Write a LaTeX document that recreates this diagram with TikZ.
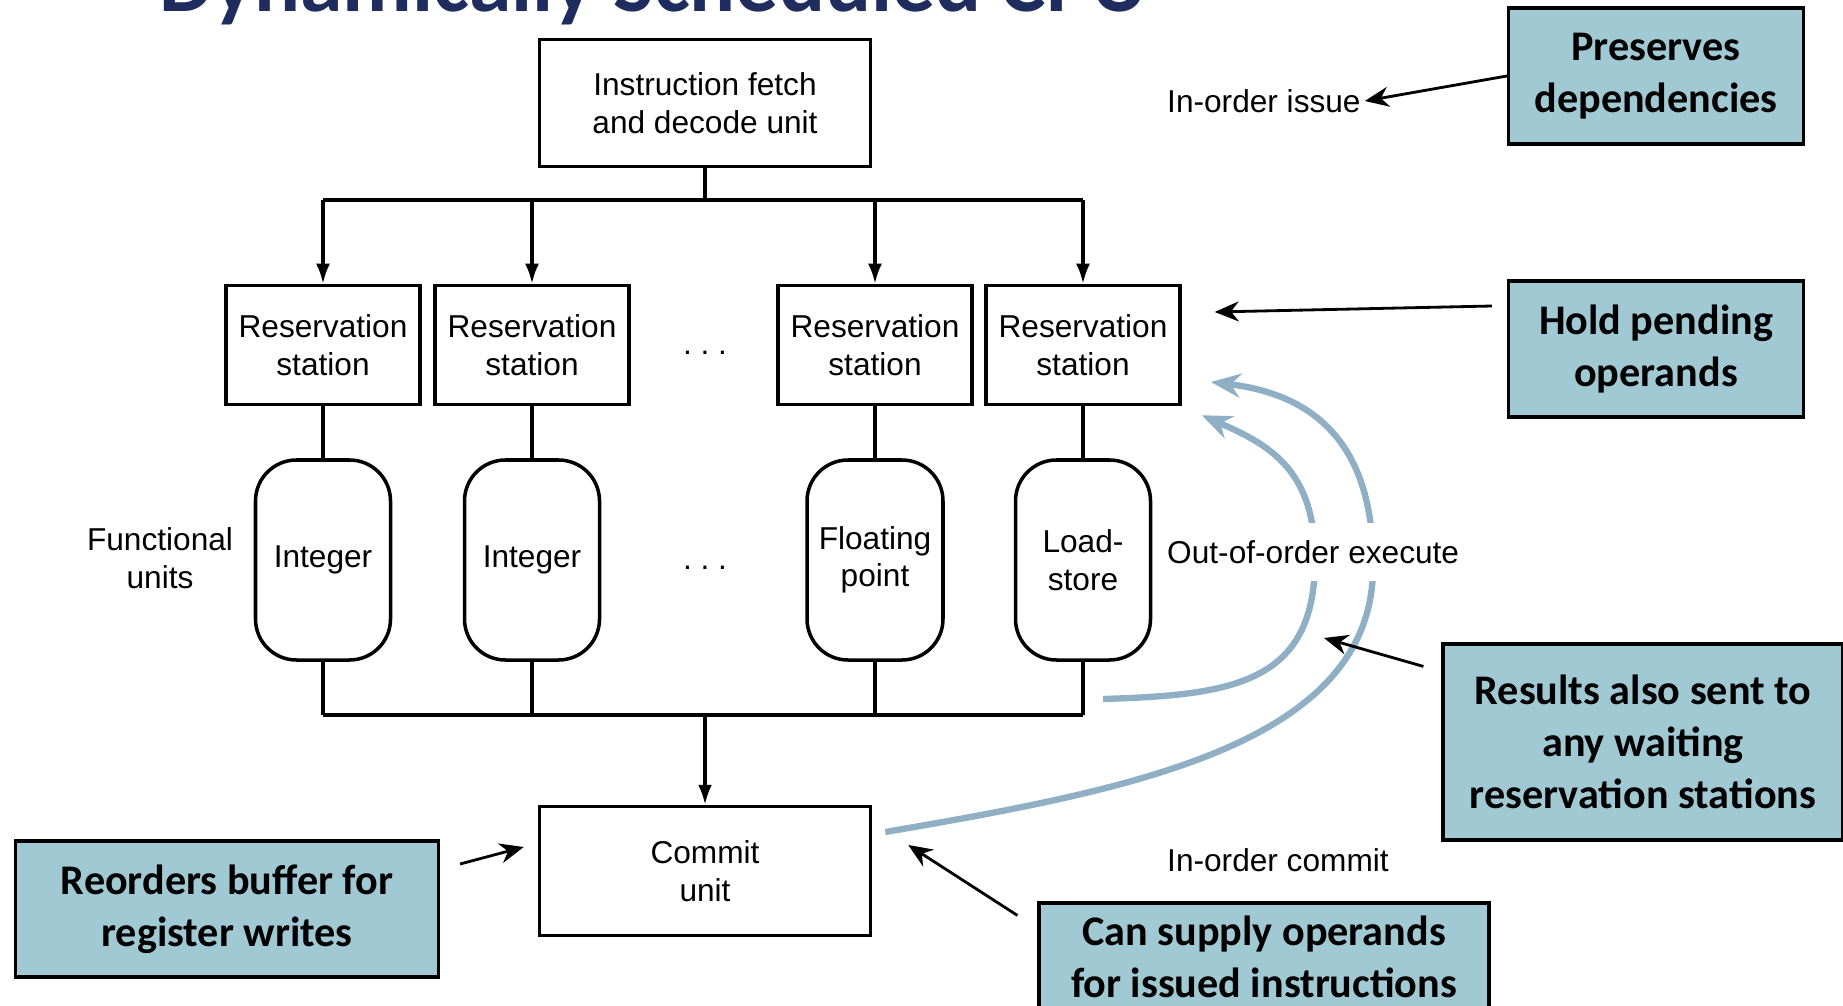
\documentclass[tikz,border=0pt]{standalone}
\usepackage{fontspec}
\setmainfont{Liberation Sans}
\newfontfamily\calloutfont{Carlito}
\usetikzlibrary{arrows.meta}
\definecolor{calloutblue}{RGB}{161,201,211}
\definecolor{curveblue}{RGB}{143,175,196}
\definecolor{titlenavy}{RGB}{31,44,94}

\begin{document}
\begin{tikzpicture}[
	unitbox/.style={draw,line width=1pt,minimum width=3.31cm,minimum height=1.27cm,align=center,font=\fontsize{9}{10.7}\selectfont},
	station/.style={draw,line width=1pt,minimum width=1.94cm,minimum height=1.19cm,align=center,font=\fontsize{9}{10.7}\selectfont},
	funit/.style={draw,line width=1pt,rounded corners=0.41cm,minimum width=1.35cm,minimum height=2cm,align=center,font=\fontsize{9}{10.7}\selectfont},
	note/.style={align=center,inner sep=1pt,font=\fontsize{9}{10.7}\selectfont},
	callout/.style={draw,line width=0.9pt,fill=calloutblue,align=center,font=\calloutfont\bfseries\fontsize{12}{14.7}\selectfont},
	wire/.style={line width=0.9pt},
	feed/.style={wire,-{Latex[length=2mm,width=1.4mm]}},
	pointer/.style={line width=0.8pt,-{Stealth[length=2.4mm,width=2mm]}},
	bypass/.style={line width=1.8pt,curveblue,-{Stealth[length=3mm,width=2.4mm]}}
	]
		\useasboundingbox (0,0) rectangle (18.43,-10.05);
		\path (1.59,-0.12) node[anchor=base west,inner sep=0pt,text=titlenavy,font=\calloutfont\bfseries\fontsize{24.4}{28}\selectfont] (title) {Dynamically Scheduled CPU};
		
		\path (7.05,-1.03) node[unitbox] (fetch) {Instruction fetch\\and decode unit};
		\path (3.23,-3.45) node[station] (rs1) {Reservation\\station};
		\path (5.32,-3.45) node[station] (rs2) {Reservation\\station};
		\path (8.75,-3.45) node[station] (rs3) {Reservation\\station};
		\path (10.83,-3.45) node[station] (rs4) {Reservation\\station};
		\path (7.05,-3.53) node[note] (dots1) {.\ .\ .};
		
		\path (3.23,-5.60) node[funit] (int1) {Integer};
		\path (5.32,-5.60) node[funit] (int2) {Integer};
		\path (8.75,-5.60) node[funit] (fp) {Floating\\point};
		\path (10.83,-5.60) node[funit] (ls) {Load-\\store};
		\path (7.05,-5.68) node[note] (dots2) {.\ .\ .};
		\path (1.60,-5.58) node[note] (fulbl) {Functional\\units};
		
		\path (7.05,-8.71) node[unitbox,minimum height=1.29cm] (commit) {Commit\\unit};
		
		\coordinate (bus) at (7.05,-2.0);
		\coordinate (res) at (7.05,-7.15);
		\draw[wire] (fetch) -- (bus);
		\draw[wire] (rs1 |- bus) -- (rs4 |- bus);
		\foreach \s in {rs1,rs2,rs3,rs4}
			\draw[feed] (\s |- bus) -- (\s);
		\foreach \s/\f in {rs1/int1,rs2/int2,rs3/fp,rs4/ls}
			\draw[wire] (\s) -- (\f);
		\foreach \f in {int1,int2,fp,ls}
			\draw[wire] (\f) -- (\f |- res);
		\draw[wire] (int1 |- res) -- (ls |- res);
		\draw[feed] (res) -- (commit);
		
		\coordinate (fwd) at (11.03,-6.99);
		\draw[bypass] (fwd) .. controls (12.3,-6.95) and (13.15,-6.85) .. (13.15,-5.6)
			.. controls (13.15,-4.7) and (12.7,-4.45) .. ([xshift=2mm,yshift=-0.9mm]rs4.south east);
		\draw[bypass] ([xshift=1.3mm,yshift=3.9mm]commit.east) .. controls (11.3,-7.9) and (13.7,-7.45) .. (13.73,-5.7)
			.. controls (13.75,-4.5) and (13.2,-3.95) .. ([xshift=2.9mm,yshift=-3.7mm]rs4.east);
		
		\path (11.63,-1.01) node[note,anchor=west] (issue) {In-order issue};
		\path (11.63,-5.52) node[note,anchor=west,fill=white,inner ysep=0.17cm] (execute) {Out-of-order execute};
		\path (11.63,-8.60) node[note,anchor=west] (commitlbl) {In-order commit};
		
		\path (16.56,-0.76) node[callout,minimum width=2.95cm,minimum height=1.36cm] (preserve) {Preserves\\dependencies};
		\path (16.56,-3.49) node[callout,minimum width=2.95cm,minimum height=1.36cm] (hold) {Hold pending\\operands};
		\path (16.43,-7.42) node[callout,minimum width=4.0cm,minimum height=1.96cm] (results) {Results also sent to\\any waiting\\reservation stations};
		\path (2.27,-9.09) node[callout,minimum width=4.23cm,minimum height=1.36cm] (reorder) {Reorders buffer for\\register writes};
		\path (12.64,-9.57) node[callout,minimum width=4.5cm,minimum height=1.08cm] (supply) {Can supply operands\\for issued instructions};
		
		\coordinate (aim) at (13.24,-6.38);
		\draw[pointer] (preserve.west) -- (issue.east);
		\draw[pointer] ([xshift=-1.5mm,yshift=4.3mm]hold.west) -- ([xshift=3.3mm,yshift=3.3mm]rs4.east);
		\draw[pointer] ([xshift=-1.8mm,yshift=-2.4mm]results.north west) -- (aim);
		\draw[pointer] ([xshift=2mm,yshift=4.5mm]reorder.east) -- ([xshift=-1.4mm,yshift=2.4mm]commit.west);
		\draw[pointer] ([xshift=-2mm,yshift=-1.4mm]supply.north west) -- ([xshift=3.6mm,yshift=2.6mm]commit.east);
		
	\end{tikzpicture}
\end{document}
